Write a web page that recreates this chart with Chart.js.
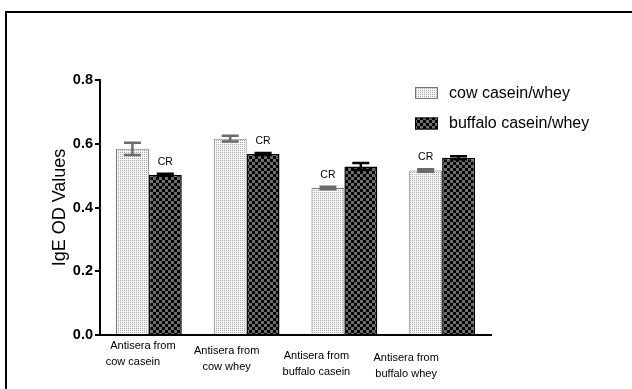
<!DOCTYPE html>
<html>
<head>
<meta charset="utf-8">
<script src="https://cdn.jsdelivr.net/npm/chart.js@4/dist/chart.umd.min.js"></script>
<style>
  html, body { margin: 0; padding: 0; background: #fff; }
  #wrap { width: 632px; height: 389px; position: relative; }
</style>
</head>
<body>
<div id="wrap"><canvas id="c" width="632" height="389"></canvas></div>
<script>
// Antisera groups (two-line category labels)
const categories = [
  ['Antisera from', 'cow casein'],
  ['Antisera from', 'cow whey'],
  ['Antisera from', 'buffalo casein'],
  ['Antisera from', 'buffalo whey']
];
const seriesNames = ['cow casein/whey', 'buffalo casein/whey'];
// IgE OD means and their error (±)
const cowValues = [0.584, 0.616, 0.461, 0.516];
const cowErrors = [0.019, 0.009, 0.004, 0.004];
const buffaloValues = [0.503, 0.568, 0.529, 0.556];
const buffaloErrors = [0.003, 0.003, 0.011, 0.005];
// which series carries the "CR" note in each group (0 = cow, 1 = buffalo)
const crSeries = [1, 1, 0, 0];
const yTicks = [0.0, 0.2, 0.4, 0.6, 0.8];

const FONT = '"Liberation Sans", Arial, sans-serif';

function makePattern(drawTile, size) {
  const t = document.createElement('canvas');
  t.width = size; t.height = size;
  drawTile(t.getContext('2d'));
  return document.getElementById('c').getContext('2d').createPattern(t, 'repeat');
}
// fine grey stipple
const dotFill = makePattern(g => {
  g.fillStyle = '#f6f6f6'; g.fillRect(0, 0, 2, 2);
  g.fillStyle = '#a8a8a8'; g.fillRect(0, 0, 1, 1);
}, 2);
// black / grey checkerboard
const checkFill = makePattern(g => {
  g.fillStyle = '#000'; g.fillRect(0, 0, 6, 6);
  g.fillStyle = '#6e6e6e'; g.fillRect(0, 0, 3, 3); g.fillRect(3, 3, 3, 3);
}, 6);

const errorsBySeries = [cowErrors, buffaloErrors];
const errorColors = ['#6a6a6a', '#000'];

const framePlugin = {
  id: 'frame',
  beforeDraw(chart) {
    const ctx = chart.ctx;
    ctx.save();
    ctx.fillStyle = '#fff';
    ctx.fillRect(0, 0, chart.width, chart.height);
    ctx.strokeStyle = '#000';
    ctx.lineWidth = 2;
    ctx.beginPath();
    ctx.moveTo(6, chart.height);
    ctx.lineTo(6, 12);
    ctx.lineTo(chart.width, 12);
    ctx.stroke();
    ctx.restore();
  }
};

const errorBarPlugin = {
  id: 'errorBars',
  afterDatasetsDraw(chart) {
    const ctx = chart.ctx;
    const y = chart.scales.y;
    ctx.save();
    chart.data.datasets.forEach((ds, di) => {
      const meta = chart.getDatasetMeta(di);
      meta.data.forEach((bar, i) => {
        const v = ds.data[i], e = errorsBySeries[di][i];
        const top = y.getPixelForValue(v + e);
        const bot = y.getPixelForValue(v - e);
        const half = 8.5;
        ctx.strokeStyle = errorColors[di];
        ctx.lineWidth = 2.5;
        ctx.beginPath();
        ctx.moveTo(bar.x, top); ctx.lineTo(bar.x, bot);
        ctx.moveTo(bar.x - half, top); ctx.lineTo(bar.x + half, top);
        ctx.moveTo(bar.x - half, bot); ctx.lineTo(bar.x + half, bot);
        ctx.stroke();
      });
    });
    // "CR" notes
    ctx.fillStyle = '#000';
    ctx.font = '10.5px ' + FONT;
    ctx.textAlign = 'center';
    ctx.textBaseline = 'middle';
    crSeries.forEach((si, i) => {
      const bar = chart.getDatasetMeta(si).data[i];
      const v = chart.data.datasets[si].data[i] + errorsBySeries[si][i];
      ctx.fillText('CR', bar.x, y.getPixelForValue(v) - 12);
    });
    ctx.restore();
  }
};

// category labels, staggered under the axis
const xLabelPlugin = {
  id: 'xLabels',
  afterDraw(chart) {
    const ctx = chart.ctx;
    const x = chart.scales.x;
    const shifts = [
      { dx: [-6, -16], dy: 0 },
      { dx: [-20, -20], dy: 5 },
      { dx: [-28, -28], dy: 10 },
      { dx: [-36, -36], dy: 12 }
    ];
    ctx.save();
    ctx.fillStyle = '#000';
    ctx.font = '11px ' + FONT;
    ctx.textAlign = 'center';
    ctx.textBaseline = 'middle';
    chart.data.labels.forEach((lines, i) => {
      const cx = x.getPixelForValue(i);
      const base = x.top + 11 + shifts[i].dy;
      lines.forEach((t, k) => {
        ctx.fillText(t, cx + shifts[i].dx[k], base + k * 15.5);
      });
    });
    ctx.restore();
  }
};

const legendPlugin = {
  id: 'boxLegend',
  afterDraw(chart) {
    const ctx = chart.ctx;
    ctx.save();
    ctx.font = '16px ' + FONT;
    ctx.textBaseline = 'middle';
    ctx.textAlign = 'left';
    chart.data.datasets.forEach((ds, i) => {
      const top = 87 + i * 30.5;
      ctx.fillStyle = ds.backgroundColor;
      ctx.fillRect(415, top, 23, 12);
      ctx.strokeStyle = ds.borderColor;
      ctx.lineWidth = 1;
      ctx.strokeRect(415.5, top + 0.5, 22, 11);
      ctx.fillStyle = '#000';
      ctx.fillText(ds.label, 449, top + 6.5);
    });
    ctx.restore();
  }
};

new Chart(document.getElementById('c'), {
  type: 'bar',
  data: {
    labels: categories,
    datasets: [
      {
        label: seriesNames[0],
        data: cowValues,
        backgroundColor: dotFill,
        borderColor: '#777',
        borderWidth: 1
      },
      {
        label: seriesNames[1],
        data: buffaloValues,
        backgroundColor: checkFill,
        borderColor: '#000',
        borderWidth: 1.5
      }
    ]
  },
  options: {
    responsive: false,
    animation: false,
    events: [],
    layout: { padding: { top: 80, right: 141, bottom: 0, left: 0 } },
    datasets: { bar: { categoryPercentage: 0.673, barPercentage: 1.0 } },
    plugins: { legend: { display: false }, tooltip: { enabled: false } },
    scales: {
      x: {
        grid: { display: false },
        border: { color: '#000', width: 2 },
        ticks: { display: false },
        afterFit(s) { s.height = 54; }
      },
      y: {
        min: 0,
        max: 0.8,
        afterBuildTicks(s) { s.ticks = yTicks.map(v => ({ value: v })); },
        grid: {
          drawOnChartArea: false,
          drawTicks: true,
          tickLength: 5,
          color: '#000',
          lineWidth: 2
        },
        border: { color: '#000', width: 2 },
        ticks: {
          color: '#000',
          padding: 2,
          font: { family: FONT, size: 14.5, weight: 'bold' },
          callback: v => Number(v).toFixed(1)
        },
        title: {
          display: true,
          text: 'IgE OD Values',
          color: '#000',
          font: { family: FONT, size: 18 },
          padding: { top: 49, bottom: 0 }
        },
        afterFit(s) { s.width = 100; }
      }
    }
  },
  plugins: [framePlugin, errorBarPlugin, xLabelPlugin, legendPlugin]
});
</script>
</body>
</html>
